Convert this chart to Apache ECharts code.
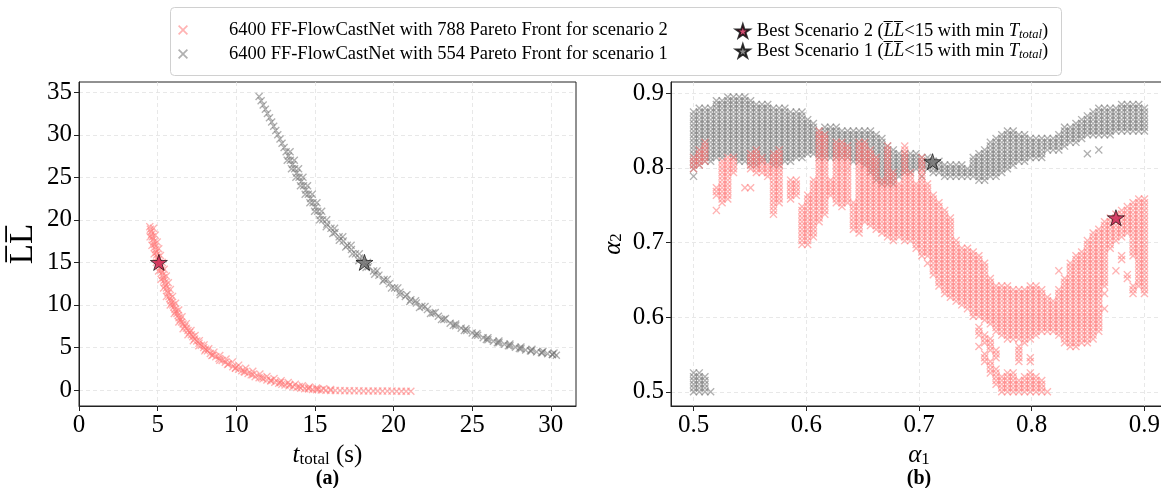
<!DOCTYPE html>
<html><head><meta charset="utf-8">
<script src="https://cdn.jsdelivr.net/npm/echarts@6/dist/echarts.min.js"></script>
<style>html,body{margin:0;padding:0;background:#fff}#c{width:1161px;height:488px}</style>
</head><body><div id="c"></div>
<script>
// ---------------- data ----------------
const s2Name = '6400 FF-FlowCastNet with 788 Pareto Front for scenario 2';
const s1Name = '6400 FF-FlowCastNet with 554 Pareto Front for scenario 1';
const best2Name = 'Best Scenario 2 (LL<15 with min T_total)';
const best1Name = 'Best Scenario 1 (LL<15 with min T_total)';

// (a) Pareto fronts: t_total (s) vs mean LL  (centre, outer and inner strands of each band)
const s2Ttotal = [4.50,4.54,4.58,4.62,4.66,4.70,4.75,4.79,4.83,4.87,4.91,4.95,5.00,5.04,5.08,5.13,5.18,5.22,5.27,5.32,5.37,5.41,5.46,5.51,5.56,5.61,5.66,5.72,5.78,5.84,5.90,5.97,6.03,6.10,6.16,6.23,6.30,6.36,6.44,6.52,6.62,6.73,6.83,6.93,7.03,7.14,7.24,7.35,7.49,7.63,7.78,7.93,8.05,8.17,8.35,8.52,8.70,8.90,9.10,9.30,9.50,9.78,9.95,10.15,10.35,10.55,10.75,10.95,11.20,11.45,11.70,11.95,12.20,12.45,12.70,12.90,13.10,13.35,13.60,13.85,14.10,14.35,14.60,14.85,15.10,15.40,15.70,16.00,16.30,16.60,16.90,17.20,17.50,17.80,18.10,18.40,18.70,19.00,19.30,19.60,19.90,20.20,20.50,20.80,21.10];
const s2LL     = [19.2,18.9,18.6,18.3,18.0,17.7,17.4,17.1,16.8,16.5,16.2,15.9,15.6,15.3,15.0,14.7,14.4,14.1,13.8,13.5,13.2,12.9,12.6,12.3,12.0,11.7,11.4,11.0,10.75,10.5,10.25,10.0,9.75,9.5,9.25,9.0,8.75,8.5,8.25,8.0,7.75,7.5,7.25,7.0,6.75,6.5,6.25,6.0,5.75,5.5,5.25,5.0,4.8,4.6,4.3,4.12,3.92,3.7,3.48,3.27,3.05,2.74,2.6,2.44,2.27,2.11,1.94,1.78,1.57,1.44,1.31,1.18,1.05,0.92,0.8,0.69,0.59,0.49,0.39,0.3,0.22,0.16,0.11,0.07,0.03,0.0,-0.03,-0.05,-0.06,-0.07,-0.08,-0.09,-0.1,-0.1,-0.11,-0.12,-0.12,-0.12,-0.13,-0.13,-0.13,-0.14,-0.14,-0.15,-0.15];
const s2TtotalOuter = [4.74,4.85,4.97,5.07,5.18,5.30,5.42,5.55,5.68,5.81,5.95,6.14,6.34,6.55,6.82,7.12,7.38,7.65,7.95,8.25,8.58,8.95,9.35,9.75,10.15,10.60,11.05,11.50,11.95,12.40,12.85,13.30,13.75,14.20,14.65,15.10,15.55,16.00];
const s2LLOuter     = [19.0,18.2,17.4,16.6,15.8,15.0,14.2,13.4,12.6,11.8,11.0,10.2,9.4,8.6,7.8,7.0,6.4,5.8,5.3,4.85,4.45,4.05,3.65,3.28,2.92,2.56,2.2,1.88,1.6,1.34,1.1,0.88,0.68,0.5,0.36,0.24,0.14,0.07];
const s2TtotalInner = [4.52,4.64,4.78,4.92,5.06,5.21,5.38,5.56,5.80,6.06,6.35,6.62,6.93,7.27,7.62,8.00,8.45,8.95,9.45,9.95,10.50,11.05,11.60,12.20,12.80,13.40,14.00,14.60,15.20];
const s2LLInner     = [18.0,17.0,16.0,15.0,14.0,13.0,12.0,11.0,10.0,9.0,8.0,7.2,6.5,5.8,5.2,4.6,4.05,3.5,3.0,2.55,2.15,1.8,1.45,1.15,0.88,0.62,0.4,0.22,0.08];
const s1Ttotal = [11.45,11.58,11.71,11.85,11.98,12.11,12.25,12.38,12.51,12.64,12.78,12.91,13.04,13.17,13.31,13.44,13.58,13.71,13.85,13.99,14.13,14.28,14.43,14.58,14.73,14.88,15.03,15.18,15.34,15.50,15.76,16.02,16.28,16.54,16.80,17.06,17.32,17.58,17.84,18.10,18.40,18.73,19.07,19.40,19.74,20.07,20.41,20.75,21.10,21.45,21.80,22.15,22.50,22.85,23.20,23.60,23.95,24.30,24.65,25.00,25.35,25.70,26.00,26.35,26.70,27.05,27.40,27.75,28.10,28.40,28.75,29.10,29.45,29.80,30.10,30.35];
const s1LL     = [34.5,34.0,33.5,33.0,32.5,32.0,31.5,31.0,30.5,30.0,29.5,29.0,28.5,28.0,27.5,27.0,26.5,26.0,25.5,25.0,24.5,24.0,23.5,23.0,22.5,22.0,21.5,21.0,20.5,20.0,19.5,19.0,18.5,18.0,17.5,17.0,16.5,16.0,15.5,15.0,14.5,14.0,13.5,13.0,12.5,12.0,11.5,11.0,10.61,10.22,9.83,9.45,9.06,8.67,8.28,7.84,7.56,7.27,6.99,6.71,6.43,6.14,5.9,5.73,5.55,5.38,5.2,5.03,4.85,4.7,4.59,4.48,4.37,4.26,4.16,4.08];
const s1TtotalOuter = [13.42,13.69,13.96,14.24,14.53,14.83,15.13,15.43,15.75,16.25,16.77,17.30,17.82,18.34,18.95,19.60,20.27,20.85,21.40,22.00,22.65,23.30,23.95,24.60,25.30,26.00,26.70,27.40,28.10,28.80,29.50,30.20];
const s1LLOuter     = [28.0,27.0,26.0,25.0,24.0,23.0,22.0,21.0,20.0,19.0,18.0,17.0,16.0,15.0,14.0,13.0,12.0,11.2,10.5,9.8,9.1,8.4,7.75,7.2,6.65,6.15,5.75,5.4,5.05,4.78,4.55,4.35];
const s1TtotalInner = [13.24,13.51,13.79,14.08,14.38,14.68,14.98,15.30,15.72,16.14,16.55,16.96,17.38,17.79,18.25,18.80,19.33,19.87,20.42,21.03,21.65,22.35,23.05,23.80,24.50,25.20,25.90,26.60,27.30,28.00,28.70,29.40,30.10];
const s1LLInner     = [27.0,26.0,25.0,24.0,23.0,22.0,21.0,20.0,19.2,18.4,17.6,16.8,16.0,15.2,14.4,13.6,12.8,12.0,11.2,10.4,9.7,9.0,8.3,7.6,7.0,6.45,5.95,5.55,5.2,4.88,4.6,4.38,4.18];

// best configurations: [t_total, LL] and [alpha1, alpha2]
const best2TL = [5.08, 15.0];
const best1TL = [18.15, 15.0];
const best2Alpha = [0.8747, 0.7332];
const best1Alpha = [0.712, 0.8083];

// (b) Pareto configurations on the 80 x 80 (alpha1, alpha2) grid over [0.5, 0.9]
// each entry: [alpha1 grid column, [[first alpha2 grid row, last alpha2 grid row], ...]]
const GRID_STEP = 0.4 / 79;
const s2AlphaRuns = [
 [0,[[59,62]]],[1,[[60,64]]],[2,[[61,66]]],[4,[[48,48],[52,54]]],[5,[[50,61]]],[6,[[51,62]]],[7,[[58,62]]],
 [9,[[54,54]]],[10,[[54,54],[59,63]]],[11,[[58,64]]],[12,[[58,62]]],[13,[[57,60]]],[14,[[47,63]]],[15,[[50,64]]],
 [17,[[51,56]]],[18,[[52,56]]],[19,[[39,49]]],[20,[[39,52]]],[21,[[41,56]]],[22,[[45,69]]],[23,[[47,68]]],
 [24,[[52,56]]],[25,[[50,66]]],[26,[[49,66]]],[27,[[50,65]]],[28,[[43,50]]],[29,[[42,66]]],[30,[[45,66]]],
 [31,[[44,64]]],[32,[[43,62]]],[33,[[42,56]]],[34,[[41,65]]],[35,[[40,58]]],[36,[[41,55]]],[37,[[40,65]]],
 [38,[[40,58]]],[39,[[38,55]]],[40,[[36,62]]],[41,[[34,34],[36,55]]],[42,[[31,52]]],[43,[[28,50]]],[44,[[26,48]]],
 [45,[[25,46]]],[46,[[24,40]]],[47,[[23,38]]],[48,[[22,38]]],[49,[[20,37]]],[50,[[12,12],[15,17],[20,36]]],
 [51,[[8,10],[13,15],[19,34]]],[52,[[5,8],[11,14],[18,30]]],[53,[[2,6],[9,11],[16,28]]],[54,[[0,4],[15,28]]],
 [55,[[0,5],[14,28]]],[56,[[0,5],[14,27]]],[57,[[0,3],[8,12],[14,27]]],[58,[[0,4],[13,27]]],[59,[[0,5],[8,9],[14,28]]],
 [60,[[0,4],[15,28]]],[61,[[0,3],[16,27]]],[62,[[0,0],[16,25]]],[63,[[16,24]]],[64,[[15,27],[32,32]]],[65,[[13,30]]],
 [66,[[12,34]]],[67,[[12,36]]],[68,[[13,37]]],[69,[[13,40]]],[70,[[14,42]]],[71,[[16,43]]],[72,[[22,22],[26,26],[28,45]]],
 [73,[[38,46]]],[74,[[32,32],[40,47]]],[75,[[35,36],[41,48]]],[76,[[30,31],[42,49]]],[77,[[26,28],[36,50]]],[78,[[28,51]]],[79,[[26,51]]]
];
const s1AlphaRuns = [
 [0,[[0,5],[57,57],[59,74]]],[1,[[0,5],[60,75]]],[2,[[0,4],[61,75]]],[3,[[0,0],[61,75]]],[4,[[62,77]]],[5,[[62,77]]],
 [6,[[63,78]]],[7,[[62,78]]],[8,[[61,78]]],[9,[[61,78]]],[10,[[60,77]]],[11,[[60,76]]],[12,[[61,76]]],[13,[[61,76]]],
 [14,[[60,75]]],[15,[[60,75]]],[16,[[61,75]]],[17,[[61,74]]],[18,[[62,74]]],[19,[[62,74]]],[20,[[63,72]]],[21,[[63,71]]],
 [22,[[62,69]]],[23,[[62,70]]],[24,[[62,70]]],[25,[[62,70]]],[26,[[62,69]]],[27,[[62,69]]],[28,[[61,69]]],[29,[[61,69]]],
 [30,[[60,69]]],[31,[[58,69]]],[32,[[56,68]]],[33,[[55,67]]],[34,[[55,65]]],[35,[[55,64]]],[36,[[57,63]]],[37,[[58,63]]],
 [38,[[58,63]]],[39,[[59,63]]],[40,[[57,57],[59,62]]],[41,[[59,62]]],[42,[[58,61]]],[43,[[58,61]]],[44,[[57,60]]],
 [45,[[57,60]]],[46,[[57,60]]],[47,[[57,60]]],[48,[[57,59]]],[49,[[57,62]]],[50,[[56,63]]],[51,[[56,64]]],[52,[[57,66]]],
 [53,[[57,67]]],[54,[[58,68]]],[55,[[59,69]]],[56,[[60,69]]],[57,[[61,68]]],[58,[[61,68]]],[59,[[62,67]]],[60,[[62,67]]],
 [61,[[62,67]]],[62,[[64,67]]],[63,[[64,67]]],[64,[[64,68]]],[65,[[65,70]]],[66,[[66,70]]],[67,[[66,71]]],[68,[[67,72]]],
 [69,[[63,63],[68,73]]],[70,[[68,74]]],[71,[[64,64],[68,75]]],[72,[[68,75]]],[73,[[68,75]]],[74,[[69,75]]],[75,[[69,76]]],
 [76,[[69,76]]],[77,[[69,76]]],[78,[[69,76]]],[79,[[69,75]]]
];

// tick labels
const xTicksA = [0,5,10,15,20,25,30];
const yTicksA = [0,5,10,15,20,25,30,35];
const xTicksB = [0.5,0.6,0.7,0.8,0.9];
const yTicksB = [0.5,0.6,0.7,0.8,0.9];

// ---------------- build ----------------
const zip = (a, b) => a.map((v, k) => [v, b[k]]);
function runsToPoints(runs) {
  const out = [];
  for (const [col, segs] of runs) for (const [lo, hi] of segs)
    for (let row = lo; row <= hi; row++)
      out.push([+(0.5 + col * GRID_STEP).toFixed(5), +(0.5 + row * GRID_STEP).toFixed(5)]);
  return out;
}

const serif = "'Liberation Serif','Times New Roman',serif";
const PINK = 'rgba(255,115,115,0.68)';
const GRAY = 'rgba(115,115,115,0.7)';
const STAR_RED = '#c8204f';
const STAR_GRAY = '#6e6e6e';
const xMark = 'path://M0,1.2L1.2,0L5,3.8L8.8,0L10,1.2L6.2,5L10,8.8L8.8,10L5,6.2L1.2,10L0,8.8L3.8,5Z';
const starMark = 'path://M50,0L61.23,34.55L97.55,34.55L68.16,55.9L79.39,90.45L50,69.1L20.61,90.45L31.84,55.9L2.45,34.55L38.77,34.55Z';

function valAxis(grid, min, max, ticks, extra) {
  return Object.assign({
    type: 'value', gridIndex: grid, min: min, max: max,
    axisLine: {show: true, onZero: false, lineStyle: {color: '#222', width: 1}},
    splitLine: {show: true, lineStyle: {color: '#e2e2e2', width: 0.8, type: [4, 3]}},
    axisTick: {show: true, length: 5, inside: false, customValues: ticks, lineStyle: {color: '#222', width: 1}},
    axisLabel: {customValues: ticks, color: '#000', fontFamily: serif, fontSize: 25, margin: 7},
  }, extra);
}
const nameRich = {
  it: {fontFamily: serif, fontStyle: 'italic', fontSize: 25, lineHeight: 24, color: '#000'},
  sub: {fontFamily: serif, fontSize: 17, lineHeight: 16, padding: [8, 0, 0, 0], color: '#000'},
  n: {fontFamily: serif, fontSize: 25, lineHeight: 24, color: '#000'},
  b: {fontFamily: serif, fontSize: 20, fontWeight: 'bold', lineHeight: 22, color: '#000'},
  ol: {fontFamily: serif, fontSize: 33, lineHeight: 36, color: '#000'}
};

const bandData = (...pairs) => pairs.reduce((acc, [a, b]) => acc.concat(zip(a, b)), []);

const option = {
  animation: false,
  backgroundColor: '#fff',
  textStyle: {fontFamily: serif},
  grid: [
    {left: 79, top: 82, width: 497, height: 324, show: true, borderColor: '#222', borderWidth: 1,
      containLabel: false, outerBoundsMode: 'none'},
    {left: 671, top: 82, width: 496, height: 324, show: true, borderColor: '#222', borderWidth: 1,
      containLabel: false, outerBoundsMode: 'none'}
  ],
  xAxis: [
    valAxis(0, 0, 31.6, xTicksA, {name: '{it|t}{sub|total}{n| (s)}\n{b|(a)}', nameLocation: 'middle', nameGap: 37,
      nameTextStyle: {rich: nameRich, align: 'center'}}),
    valAxis(1, 0.48, 0.92, xTicksB, {name: '{it|α}{sub|1}\n{b|(b)}', nameLocation: 'middle', nameGap: 37,
      nameTextStyle: {rich: nameRich, align: 'center'}})
  ],
  yAxis: [
    valAxis(0, -1.88, 36.2, yTicksA, {name: '{ol|L\u0305L\u0305}', nameLocation: 'middle', nameGap: 38, nameRotate: 90,
      nameTextStyle: {rich: nameRich}}),
    valAxis(1, 0.481, 0.915, yTicksB, {name: '{it|α}{sub|2}', nameLocation: 'middle', nameGap: 46, nameRotate: 90,
      nameTextStyle: {rich: nameRich}})
  ],
  legend: [
    {
      data: [{name: s2Name, icon: xMark}, {name: s1Name, icon: xMark}],
      orient: 'vertical', left: 173, top: 15, itemWidth: 10, itemHeight: 10, itemGap: 4,
      textStyle: {fontFamily: serif, fontSize: 18.5, lineHeight: 20, color: '#000', padding: [0, 0, 0, 36]}
    },
    {
      data: [{name: best2Name, icon: starMark}, {name: best1Name, icon: starMark}],
      orient: 'vertical', left: 730, top: 16, itemWidth: 18, itemHeight: 13, itemGap: 0,
      formatter: function (name) {
        const num = name.indexOf('2 (') >= 0 ? '2' : '1';
        return '{n|Best Scenario ' + num + ' (}{ll|L\u0305L\u0305}{n|<15 with min }{it|T}{sub|total}{n|)}';
      },
      textStyle: {fontFamily: serif, fontSize: 18.5, color: '#000', rich: {
        n: {fontFamily: serif, fontSize: 18.5, lineHeight: 23, color: '#000'},
        ll: {fontFamily: serif, fontStyle: 'italic', fontSize: 18.5, lineHeight: 23, color: '#000'},
        it: {fontFamily: serif, fontStyle: 'italic', fontSize: 18.5, lineHeight: 23, color: '#000'},
        sub: {fontFamily: serif, fontStyle: 'italic', fontSize: 12.5, lineHeight: 16, padding: [7, 0, 0, 0], color: '#000'}
      }}
    }
  ],
  graphic: [{
    type: 'rect', z: -1, silent: true,
    shape: {x: 170.5, y: 7.5, width: 891, height: 68, r: 4},
    style: {fill: '#fff', stroke: '#d0d0d0', lineWidth: 1}
  }],
  series: [
    {name: s1Name, type: 'scatter', xAxisIndex: 0, yAxisIndex: 0, symbol: xMark, symbolSize: 8,
      itemStyle: {color: GRAY}, z: 2,
      data: bandData([s1Ttotal, s1LL], [s1TtotalOuter, s1LLOuter], [s1TtotalInner, s1LLInner])},
    {name: s2Name, type: 'scatter', xAxisIndex: 0, yAxisIndex: 0, symbol: xMark, symbolSize: 8,
      itemStyle: {color: PINK}, z: 3,
      data: bandData([s2Ttotal, s2LL], [s2TtotalOuter, s2LLOuter], [s2TtotalInner, s2LLInner])},
    {name: s1Name, type: 'scatter', xAxisIndex: 1, yAxisIndex: 1, symbol: xMark, symbolSize: 8,
      itemStyle: {color: GRAY}, data: runsToPoints(s1AlphaRuns), z: 2},
    {name: s2Name, type: 'scatter', xAxisIndex: 1, yAxisIndex: 1, symbol: xMark, symbolSize: 8,
      itemStyle: {color: PINK}, data: runsToPoints(s2AlphaRuns), z: 3},
    {name: best2Name, type: 'scatter', xAxisIndex: 0, yAxisIndex: 0, symbol: starMark, symbolSize: [17, 16],
      itemStyle: {color: STAR_RED, borderColor: '#000', borderWidth: 0.8}, data: [best2TL], z: 5},
    {name: best1Name, type: 'scatter', xAxisIndex: 0, yAxisIndex: 0, symbol: starMark, symbolSize: [17, 16],
      itemStyle: {color: STAR_GRAY, borderColor: '#000', borderWidth: 0.8}, data: [best1TL], z: 5},
    {name: best2Name, type: 'scatter', xAxisIndex: 1, yAxisIndex: 1, symbol: starMark, symbolSize: [17, 16],
      itemStyle: {color: STAR_RED, borderColor: '#000', borderWidth: 0.8}, data: [best2Alpha], z: 5},
    {name: best1Name, type: 'scatter', xAxisIndex: 1, yAxisIndex: 1, symbol: starMark, symbolSize: [17, 16],
      itemStyle: {color: STAR_GRAY, borderColor: '#000', borderWidth: 0.8}, data: [best1Alpha], z: 5}
  ]
};
const chart = echarts.init(document.getElementById('c'));
chart.setOption(option);
</script></body></html>
